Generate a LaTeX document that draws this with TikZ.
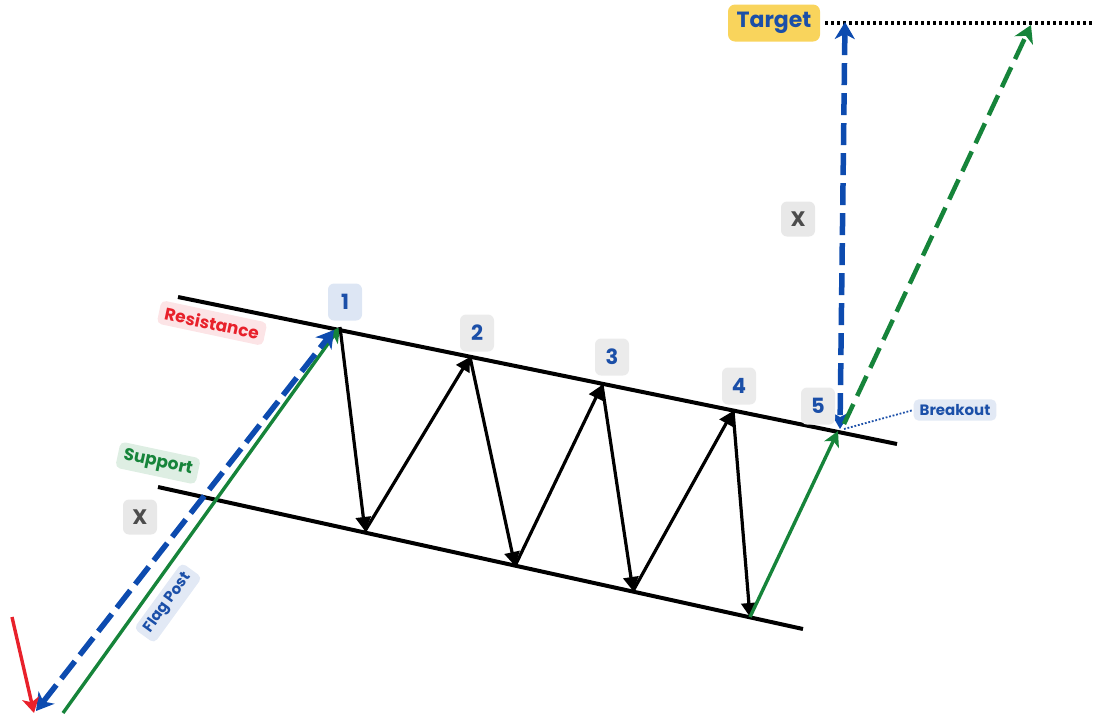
\documentclass[tikz,border=0pt]{standalone}
\usepackage{fontspec}
\setmainfont{Poppins}
\usetikzlibrary{positioning,calc,arrows.meta}
\definecolor{flagblue}{HTML}{0D4BAF}
\definecolor{flaggreen}{HTML}{16843A}
\definecolor{flagred}{HTML}{E8212B}
\definecolor{tagblue}{HTML}{1B4FA8}
\definecolor{tgtyellow}{HTML}{F9D45C}

\begin{document}
\begin{tikzpicture}[x=1pt, y=-1pt,
  trend/.style={line width=4pt, black},
  swing/.style={line width=3.2pt, black, -{Triangle[length=14pt, width=15pt]}},
  bluedash/.style={line width=5.5pt, flagblue, dash pattern=on 22pt off 8pt,
                   {Stealth[length=17pt, width=20pt, inset=5pt]}-{Stealth[length=17pt, width=20pt, inset=5pt]}},
  greendash/.style={line width=4.5pt, flaggreen, dash pattern=on 22pt off 9pt,
                    -{Stealth[length=17pt, width=20pt, inset=5pt]}},
  greensolid/.style={line width=3.4pt, flaggreen, -{Stealth[length=15pt, width=16pt, inset=4pt]}},
  numtag/.style={rounded corners=6pt, fill=black!8, text=tagblue,
                 minimum width=34pt, minimum height=37pt, inner sep=0pt,
                 font=\bfseries\fontsize{21}{21}\selectfont},
  xtag/.style={rounded corners=6pt, fill=black!9, text=black!70,
               minimum width=34pt, minimum height=35pt, inner sep=0pt,
               font=\bfseries\fontsize{21}{21}\selectfont},
  lbl/.style={rounded corners=5pt, inner xsep=6pt, inner ysep=5pt,
              font=\bfseries\fontsize{17}{17}\selectfont},
]
\useasboundingbox (0,0) rectangle (1095,716);

% Channel lines
\coordinate (r1) at (178,297);
\coordinate (r2) at (897,444);
\coordinate (s1) at (158,487);
\coordinate (s2) at (803,629);

% Swing points
\coordinate (t1) at (340,327);
\coordinate (b1) at (365,531);
\coordinate (t2) at (470,357);
\coordinate (b2) at (515,566);
\coordinate (t3) at (602,385);
\coordinate (b3) at (633,591);
\coordinate (t4) at (733,411);
\coordinate (b4) at (750,617);
\coordinate (brk) at (838,431);

% Flag post ends
\coordinate (fb0) at (36,711);
\coordinate (fb1) at (334,330);
\coordinate (fg0) at (63,713);
\coordinate (ra0) at (12,617);
\coordinate (ra1) at (34,713);

% Target measure ends
\coordinate (mx0) at (845,22);
\coordinate (mx1) at (840,429);
\coordinate (gd0) at (844,424);
\coordinate (gd1) at (1031,25);
\coordinate (dotend) at (1095,23);

\draw[trend] (r1) -- (r2);
\draw[trend] (s1) -- (s2);

% Flag post
\draw[greensolid] (fg0) -- (t1);
\draw[bluedash] (fb0) -- (fb1);
\draw[line width=3.4pt, flagred, -{Stealth[length=15pt, width=17pt, inset=4pt]}] (ra0) -- (ra1);

% Zigzag inside the flag
\draw[swing] (t1) -- (b1);
\draw[swing] (b1) -- (t2);
\draw[swing] (t2) -- (b2);
\draw[swing] (b2) -- (t3);
\draw[swing] (t3) -- (b3);
\draw[swing] (b3) -- (t4);
\draw[swing] (t4) -- (b4);
\draw[greensolid] (b4) -- (brk);

% Projection to target
\node[rounded corners=7pt, fill=tgtyellow, text=tagblue, minimum width=92pt,
      minimum height=37pt, inner sep=0pt,
      font=\bfseries\fontsize{22}{22}\selectfont] (tgt) at (774,23) {Target};
\draw[line width=3.2pt, black, dash pattern=on 3pt off 3pt] (tgt.east) ++(5,0) coordinate (dotstart) (dotstart) -- (dotend);
\draw[bluedash] (mx0) -- (mx1);
\draw[greendash] (gd0) -- (gd1);

% Labels
\node[lbl, fill=flagred!12, text=flagred, rotate=-12] (res) at (212,323) {Resistance};
\node[lbl, fill=flaggreen!14, text=flaggreen, rotate=-12] (sup) at (158,463) {Support};
\node[lbl, fill=flagblue!12, text=tagblue, rotate=54,
      font=\bfseries\fontsize{15}{15}\selectfont] (post) at (168,603) {Flag Post};
\node[lbl, fill=flagblue!12, text=tagblue, inner ysep=5pt,
      font=\bfseries\fontsize{15}{15}\selectfont] (brklbl) at (955,410) {Breakout};
\draw[line width=1.8pt, tagblue, dash pattern=on 1.8pt off 1.8pt] (brk) ++(6,-2) coordinate (bk) (bk) -- (brklbl.west);

\node[xtag] (xl) at (140,517) {X};
\node[xtag] (xr) at (798,219) {X};

\node[numtag, fill=flagblue!14] (n1) at (345,302) {1};
\node[numtag] (n2) at (477,333) {2};
\node[numtag] (n3) at (612,357) {3};
\node[numtag] (n4) at (739,386) {4};
\node[numtag] (n5) at (818,406) {5};

\end{tikzpicture}
\end{document}
